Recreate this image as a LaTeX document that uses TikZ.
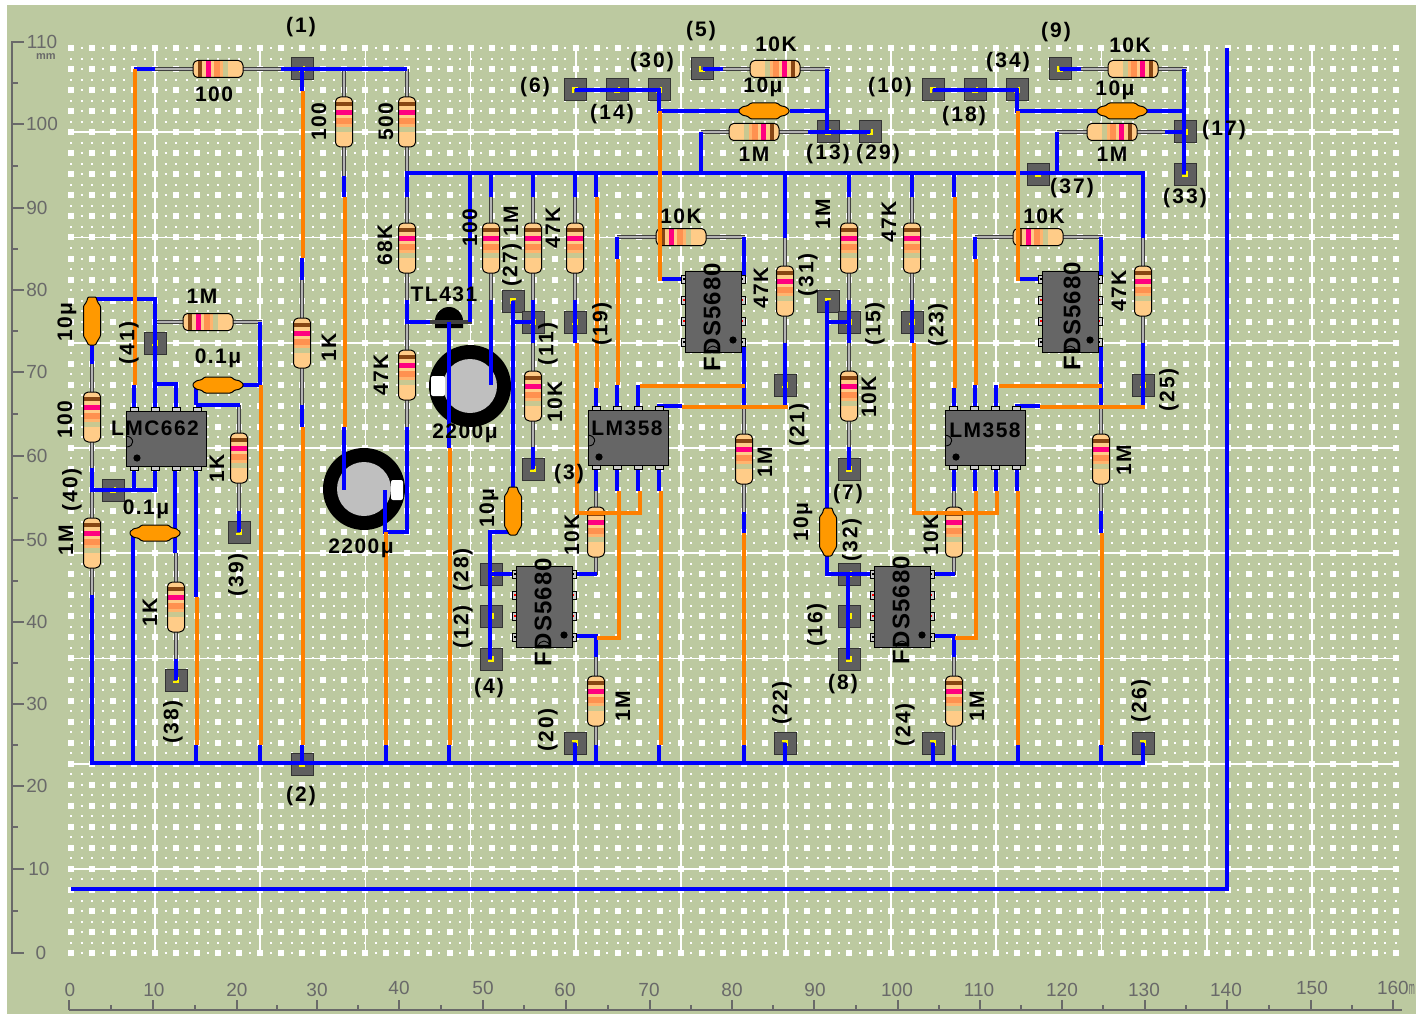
\documentclass[tikz,border=0pt]{standalone}
\usepackage{fontspec}
\setmainfont{Liberation Sans}
\newfontfamily\valf[LetterSpace=7]{Liberation Sans}
\newfontfamily\padf[LetterSpace=10]{Liberation Sans}
\newfontfamily\fdsf[LetterSpace=5]{Liberation Sans}
\definecolor{board}{RGB}{188,201,160}
\definecolor{axisc}{RGB}{105,105,105}
\definecolor{wblue}{RGB}{0,0,255}
\definecolor{worange}{RGB}{255,128,0}
\definecolor{rbody}{RGB}{255,204,136}
\definecolor{rbrown}{RGB}{135,70,20}
\definecolor{rmag}{RGB}{255,0,128}
\definecolor{rora}{RGB}{255,145,80}
\definecolor{rlight}{RGB}{255,180,110}
\definecolor{rsage}{RGB}{200,200,145}
\definecolor{capc}{RGB}{255,153,0}
\definecolor{icc}{RGB}{102,102,102}
\definecolor{padc}{RGB}{95,95,95}
\definecolor{pinc}{RGB}{205,205,205}
\tikzset{
  bw/.style={draw=wblue,line width=3.6pt,line join=miter},
  ow/.style={draw=worange,line width=3.6pt,line join=miter},
  leadO/.style={draw=black!75,line width=4.2pt},
  leadI/.style={draw=black!30,line width=1.6pt},
  vallab/.style={inner sep=0pt,font=\valf\bfseries\fontsize{21}{21}\selectfont,text=black},
  padlab/.style={inner sep=0pt,font=\padf\bfseries\fontsize{21}{21}\selectfont,text=black},
  fdslab/.style={inner sep=0pt,rotate=90,font=\fdsf\bfseries\fontsize{24}{24}\selectfont,text=black},
  axlab/.style={inner sep=0pt,font=\fontsize{19}{19}\selectfont,text=axisc},
  axl/.style={draw=axisc,line width=1.6pt},
  gridl/.style={draw=white,line width=1.8pt},
  ico/.style={fill=icc,draw=black,line width=1pt},
  pino/.style={fill=pinc,draw=black,line width=.8pt},
  capo/.style={fill=capc,draw=black,line width=1pt,rounded corners=1pt},
}
\newcount\labn
\newcommand{\ValH}[3]{\global\advance\labn by1 \node[vallab] (v\the\labn) at (#1,#2) {#3};}
\newcommand{\ValR}[3]{\global\advance\labn by1 \node[vallab,rotate=90] (v\the\labn) at (#1,#2) {#3};}
\newcommand{\PadH}[3]{\global\advance\labn by1 \node[padlab] (p\the\labn) at (#1,#2) {#3};}
\newcommand{\PadR}[3]{\global\advance\labn by1 \node[padlab,rotate=90] (p\the\labn) at (#1,#2) {#3};}
\newcommand{\resbody}{%
  \fill[rbody] (-25,-5)--(-22,-8.5)--(22,-8.5)--(25,-5)--(25,5)--(22,8.5)--(-22,8.5)--(-25,5)--cycle;
  \fill[rbrown] (-20,-8) rectangle (-16,8);
  \fill[rmag] (-12,-8) rectangle (-7,8);
  \fill[rora] (-4,-8) rectangle (2,8);
  \fill[rlight] (2,-8) rectangle (5,8);
  \fill[rsage] (5,-8) rectangle (10,8);
  \draw[black,line width=1pt,rounded corners=1.5pt] (-25,-5)--(-22,-8.5)--(22,-8.5)--(25,-5)--(25,5)--(22,8.5)--(-22,8.5)--(-25,5)--cycle;
}
% cx cy x1 x2 dir
\newcommand{\resH}[5]{%
  \draw[leadO] (#3,#2)--(#4,#2); \draw[leadI] (#3,#2)--(#4,#2);
  \begin{scope}[shift={(#1,#2)},xscale=#5]\resbody\end{scope}}
% cx cy y1 y2 dir
\newcommand{\resV}[5]{%
  \draw[leadO] (#1,#3)--(#1,#4); \draw[leadI] (#1,#3)--(#1,#4);
  \begin{scope}[shift={(#1,#2)},rotate=-90,xscale=#5]\resbody\end{scope}}
\newcommand{\capH}[2]{\draw[capo] (#1-25,#2-1.5)--(#1-21,#2-4.5)--(#1-17,#2-5)--(#1-13,#2-8)--(#1+13,#2-8)--(#1+17,#2-5)--(#1+21,#2-4.5)--(#1+25,#2-1.5)--(#1+25,#2+1.5)--(#1+21,#2+4.5)--(#1+17,#2+5)--(#1+13,#2+8)--(#1-13,#2+8)--(#1-17,#2+5)--(#1-21,#2+4.5)--(#1-25,#2+1.5)--cycle;}
\newcommand{\capV}[2]{\draw[capo] (#1-4,#2-24)--(#1+4,#2-24)--(#1+5.5,#2-19)--(#1+8.5,#2-15)--(#1+8.5,#2+15)--(#1+5.5,#2+20)--(#1+3.5,#2+24)--(#1-3.5,#2+24)--(#1-5.5,#2+20)--(#1-8.5,#2+15)--(#1-8.5,#2-15)--(#1-5.5,#2-19)--cycle;}
% x y sx sy : pad with yellow corner mark
\newcommand{\pad}[4]{%
  \fill[padc] (#1-11,#2-11) rectangle (#1+11,#2+11);
  \draw[black!80,line width=1pt] (#1-11,#2-11) rectangle (#1+11,#2+11);
  \draw[yellow,line width=1.2pt] (#1-3*#3,#2+2*#4)--(#1+2*#3,#2+2*#4)--(#1+2*#3,#2-3*#4);}
% x1 y1 pins at x+8,+29,+50,+71
\newcommand{\ich}[2]{%
  \foreach \d in {8,29,50,71}{
    \draw[pino] (#1+\d-4,#2-4) rectangle (#1+\d+4,#2+1);
    \draw[pino] (#1+\d-4,#2+54) rectangle (#1+\d+4,#2+59);}
  \draw[ico] (#1,#2) rectangle (#1+80,#2+55);
  \fill[black] (#1+11,#2+47) circle[radius=3.6];
  \draw[black,line width=.9pt] (#1,#2+25) .. controls (#1+9,#2+26) and (#1+9,#2+36) .. (#1,#2+36);}
% x1 y1 : vertical FDS body, pins at y+8,+29,+50,+71
\newcommand{\icv}[2]{%
  \foreach \d/\cc in {8/black,29/red,50/red,71/black}{
    \draw[pino] (#1-4,#2+\d-4) rectangle (#1+1,#2+\d+4);
    \draw[pino] (#1+55,#2+\d-4) rectangle (#1+60,#2+\d+4);
    \fill[\cc] (#1-2,#2+\d-.7) rectangle (#1,#2+\d+.7);
    \fill[\cc] (#1+56,#2+\d-.7) rectangle (#1+58,#2+\d+.7);}
  \draw[ico] (#1,#2) rectangle (#1+56,#2+81);
  \fill[black] (#1+48,#2+69) circle[radius=3.6];
  \draw[black,line width=.9pt] (#1+22,#2+81) .. controls (#1+23,#2+73) and (#1+33,#2+73) .. (#1+34,#2+81);}
\newcommand{\elcap}[5]{%
  \fill[black] (#1,#2) circle[radius=41];
  \fill[black!25] (#1,#2) circle[radius=27];
  \fill[white,rounded corners=2pt] (#3,#4) rectangle ++(#5,20);}
\begin{document}
\begin{tikzpicture}[x=1pt,y=-1pt]
\useasboundingbox (0,0) rectangle (1416,1014);
\fill[board] (7,5) rectangle (1416,1014);
% board dots and lines
\foreach \k in {0,...,86}{
  \pgfmathsetmacro{\yy}{48+10.525*\k}
  \draw[white,line width=2pt,dash pattern=on 2pt off 8.515pt] (70,\yy)--(1398,\yy);}
\foreach \k in {4,9,...,39}{
  \pgfmathsetmacro{\yy}{48+21.05*\k}
  \draw[gridl] (71,\yy)--(1397,\yy);}
\foreach \k in {4,9,...,59}{
  \pgfmathsetmacro{\xx}{71+21.03*\k}
  \draw[gridl] (\xx,48)--(\xx,953);}
\foreach \k in {0,...,43}{
  \pgfmathsetmacro{\yy}{48+21.05*\k}
  \draw[white,line width=6pt,dash pattern=on 6pt off 15.03pt] (68,\yy)--(1399,\yy);}
% left axis
\draw[axl] (24,42)--(12,42)--(12,953)--(24,953);
\foreach \v/\yy in {100/124,90/208,80/290,70/372,60/456,50/540,40/622,30/704,20/786,10/869}{
  \draw[axl] (12,\yy)--(24,\yy);}
\foreach \yy in {83,166,249,331,414,498,581,663,745,827,911}{\draw[axl] (12,\yy)--(18,\yy);}
\foreach \v/\yy/\xx in {110/42/42,100/124/42,90/208/37,80/290/37,70/372/37,60/456/37,50/540/37,40/622/37,30/704/37,20/786/37,10/869/39,0/953/41}{
  \node[axlab] (ay\v) at (\xx,\yy) {\v};}
\node[inner sep=0pt,text=axisc,font=\bfseries\fontsize{11}{11}\selectfont] (aymm) at (46,57) {mm};
% bottom axis
\draw[axl] (69,1010)--(1402,1010);
\foreach \xx in {69,153,237,317,399,483,566,650,732,814,898,980,1062,1145,1227,1311,1393}{\draw[axl] (\xx,1000)--(\xx,1010);}
\foreach \xx in {111,195,277,358,441,524,608,691,773,856,939,1021,1103,1186,1269,1352}{\draw[axl] (\xx,1005)--(\xx,1010);}
\foreach \v/\xx/\yy in {0/70/990,10/154/990,20/237/990,30/317/990,40/399/988,50/483/988,60/565/990,70/649/990,80/732/990,90/815/990,100/897/990,110/979/990,120/1062/990,130/1144/990,140/1226/990,150/1312/988}{
  \node[axlab] (ax\v) at (\xx,\yy) {\v};}
\node[axlab,anchor=east] (ax160) at (1415,988) {160\scalebox{0.38}[1]{m}};
% pads
\foreach \x/\y/\sa/\sb in {302/69/1/1,302/764/1/1,533/469/1/1,491/659/1/1,702/69/-1/1,575/90/-1/-1,617/90/1/1,659/90/1/1,828/132/1/1,870/132/1/1,1060/69/-1/1,933/90/-1/-1,975/90/1/1,1017/90/1/1,1185/132/1/1,1185/174/1/1,1038/174/1/1,513/301/-1/-1,533/322/1/1,575/322/1/1,828/301/-1/-1,849/322/1/1,912/322/1/1,785/385/1/1,1143/385/1/1,849/469/1/1,849/574/1/1,849/616/1/1,849/659/1/1,491/574/1/1,491/616/1/1,575/743/1/-1,785/743/1/-1,933/743/1/-1,1143/743/1/-1,176/680/1/1,239/532/1/1,113/490/1/1,155/343/1/1}{\pad{\x}{\y}{\sa}{\sb}}
% electrolytic caps and TL431
\elcap{364}{489}{391}{480}{12}
\elcap{470}{386}{431}{376}{14}
\fill[black] (435,328)--(435,321) arc[start angle=180,end angle=360,radius=14]--(463,328)--cycle;
\draw[leadO] (430,322)--(472,322);
% resistors
\resH{218}{69}{155}{281}{1}
\resH{208}{322}{155}{262}{1}
\resH{775}{69}{723}{830}{-1}
\resH{754}{132}{701}{808}{-1}
\resH{681}{237}{617}{745}{1}
\resH{1133}{69}{1081}{1187}{-1}
\resH{1112}{132}{1057}{1165}{-1}
\resH{1038}{237}{975}{1103}{1}
\resV{344}{122}{69}{176}{1}
\resV{407}{122}{69}{173}{1}
\resV{407}{248}{197}{300}{1}
\resV{407}{375}{322}{427}{1}
\resV{302}{343}{280}{405}{1}
\resV{92}{417}{364}{470}{1}
\resV{92}{543}{490}{595}{1}
\resV{176}{607}{553}{659}{1}
\resV{239}{458}{405}{511}{1}
\resV{491}{248}{197}{300}{1}
\resV{533}{248}{197}{300}{1}
\resV{533}{396}{343}{447}{1}
\resV{575}{248}{197}{300}{1}
\resV{596}{532}{490}{575}{1}
\resV{596}{701}{657}{745}{1}
\resV{744}{459}{406}{512}{1}
\resV{785}{291}{238}{343}{1}
\resV{849}{248}{197}{300}{1}
\resV{849}{396}{343}{447}{1}
\resV{912}{248}{197}{300}{1}
\resV{1101}{459}{406}{511}{1}
\resV{1143}{291}{238}{343}{1}
\resV{954}{532}{490}{575}{1}
\resV{954}{701}{657}{745}{1}
% blue wires
\draw[bw] (134,69)--(155,69);
\draw[bw] (281,69)--(407,69);
\draw[bw] (302,69)--(302,91);
\draw[bw] (344,176)--(344,197);
\draw[bw] (407,197)--(407,173)--(1143,173)--(1143,238);
\draw[bw] (470,173)--(470,322);
\foreach \x in {491,533,575,596,849,912,954}{\draw[bw] (\x,173)--(\x,197);}
\draw[bw] (785,173)--(785,238);
\draw[bw] (701,173)--(701,132);
\draw[bw] (1057,173)--(1057,132);
\draw[bw] (575,90)--(659,90)--(659,111)--(739,111);
\draw[bw] (790,111)--(827,111);
\draw[bw] (827,69)--(827,132);
\draw[bw] (808,132)--(870,132);
\draw[bw] (703,69)--(723,69);
\draw[bw] (933,90)--(1017,90)--(1017,111)--(1097,111);
\draw[bw] (1147,111)--(1184,111);
\draw[bw] (1184,69)--(1184,174);
\draw[bw] (1165,132)--(1185,132);
\draw[bw] (1060,69)--(1081,69);
\draw[bw] (302,258)--(302,280);
\draw[bw] (302,405)--(302,427);
\draw[bw] (344,427)--(344,490);
\draw[bw] (407,300)--(407,322)--(430,322);
\draw[bw] (407,427)--(407,532)--(385,532)--(385,490);
\draw[bw] (449,322)--(449,448);
\draw[bw] (491,300)--(491,385);
\draw[bw] (533,300)--(533,343);
\draw[bw] (575,300)--(575,343);
\draw[bw] (513,301)--(513,487);
\draw[bw] (513,322)--(533,322);
\draw[bw] (533,447)--(533,469);
\draw[bw] (512,532)--(490,532)--(490,659);
\draw[bw] (490,574)--(516,574);
\draw[bw] (575,574)--(597,574);
\draw[bw] (575,636)--(596,636)--(596,657);
\draw[bw] (596,388)--(596,410);
\draw[bw] (617,237)--(617,259);
\draw[bw] (617,385)--(617,410);
\draw[bw] (638,385)--(638,410);
\draw[bw] (682,406)--(659,406)--(659,410);
\draw[bw] (683,279)--(661,279);
\foreach \x in {596,617,638,659}{\draw[bw] (\x,465)--(\x,491);}
\draw[bw] (744,237)--(744,281);
\draw[bw] (744,343)--(744,406);
\draw[bw] (744,512)--(744,533);
\draw[bw] (785,343)--(785,406);
\draw[bw] (849,300)--(849,343);
\draw[bw] (912,300)--(912,343);
\draw[bw] (849,447)--(849,470);
\draw[bw] (827,301)--(827,510);
\draw[bw] (827,322)--(849,322);
\draw[bw] (827,555)--(827,574)--(874,574);
\draw[bw] (848,574)--(848,659);
\draw[bw] (932,574)--(955,574);
\draw[bw] (931,636)--(954,636)--(954,657);
\draw[bw] (954,388)--(954,410);
\draw[bw] (975,237)--(975,259);
\draw[bw] (975,385)--(975,410);
\draw[bw] (996,385)--(996,410);
\draw[bw] (1040,406)--(1017,406)--(1017,410);
\draw[bw] (1040,279)--(1018,279);
\foreach \x in {954,975,996,1017}{\draw[bw] (\x,465)--(\x,491);}
\draw[bw] (1101,237)--(1101,281);
\draw[bw] (1101,343)--(1101,406);
\draw[bw] (1101,511)--(1101,533);
\draw[bw] (1143,343)--(1143,406);
\draw[bw] (92,299)--(155,299)--(155,410);
\draw[bw] (155,384)--(176,384)--(176,410);
\draw[bw] (134,385)--(134,410);
\draw[bw] (196,385)--(196,405);
\draw[bw] (196,405)--(240,405);
\draw[bw] (243,385)--(260,385)--(260,322);
\draw[bw] (92,345)--(92,364);
\draw[bw] (92,468)--(92,490)--(155,490)--(155,465);
\draw[bw] (134,465)--(134,490);
\draw[bw] (175,465)--(175,553);
\draw[bw] (196,465)--(196,597);
\draw[bw] (133,533)--(133,763);
\draw[bw] (176,659)--(176,680);
\draw[bw] (239,511)--(239,532);
\draw[bw] (92,595)--(92,763)--(1143,763)--(1143,743);
\foreach \x in {196,260,302,386,449,596,659,744,954,1018,1101}{\draw[bw] (\x,745)--(\x,763);}
\foreach \x in {575,785,933}{\draw[bw] (\x,743)--(\x,763);}
\draw[bw,line width=4pt] (71,889)--(1227,889)--(1227,48);
% capacitors
\capV{92}{321}
\capV{513}{511}
\capV{828}{532}
\capH{218}{385}
\capH{155}{533}
\capH{764}{111}
\capH{1122}{111}
% ICs
\ich{126}{411}
\ich{588}{410}
\ich{945}{410}
\icv{685}{271}
\icv{1042}{271}
\icv{516}{566}
\icv{874}{566}
% orange wires
\draw[ow] (135,69)--(135,385);
\draw[ow] (303,91)--(303,258);
\draw[ow] (303,427)--(303,745);
\draw[ow] (345,197)--(345,427);
\draw[ow] (261,385)--(261,745);
\draw[ow] (197,597)--(197,745);
\draw[ow] (386,532)--(386,745);
\draw[ow] (450,448)--(450,745);
\draw[ow] (597,197)--(597,388);
\draw[ow] (618,259)--(618,385);
\draw[ow] (660,111)--(660,281);
\draw[ow] (640,386)--(745,386);
\draw[ow] (682,407)--(788,407);
\draw[ow] (577,343)--(577,513)--(640,513)--(640,491);
\draw[ow] (619,491)--(619,638)--(597,638);
\draw[ow] (661,491)--(661,745);
\draw[ow] (744,533)--(744,745);
\draw[ow] (955,197)--(955,388);
\draw[ow] (976,259)--(976,385);
\draw[ow] (1018,111)--(1018,281);
\draw[ow] (999,386)--(1102,386);
\draw[ow] (1040,407)--(1145,407);
\draw[ow] (914,343)--(914,513)--(997,513)--(997,491);
\draw[ow] (976,491)--(976,638)--(955,638);
\draw[ow] (1018,491)--(1018,745);
\draw[ow] (1102,533)--(1102,745);
% value labels
\ValH{214}{94}{100}
\ValR{319}{122}{100}
\ValR{386}{122}{500}
\ValR{385}{245}{68K}
\ValR{381}{375}{47K}
\ValR{329}{347}{1K}
\ValH{202}{296}{1M}
\ValH{218}{358}{0.1μ}
\ValH{146}{509}{0.1μ}
\ValR{67}{322}{10μ}
\ValR{65}{420}{100}
\ValR{66}{540}{1M}
\ValR{150}{612}{1K}
\ValR{217}{468}{1K}
\ValH{361}{548}{2200μ}
\ValH{465}{433}{2200μ}
\ValH{444}{294}{TL431}
\ValR{470}{228}{100}
\ValR{511}{221}{1M}
\ValR{553}{228}{47K}
\ValR{555}{402}{10K}
\ValR{489}{508}{10μ}
\ValR{572}{535}{10K}
\ValR{623}{706}{1M}
\ValH{681}{216}{10K}
\ValR{761}{288}{47K}
\ValR{765}{462}{1M}
\ValH{776}{44}{10K}
\ValH{763}{87}{10μ}
\ValH{754}{154}{1M}
\ValR{823}{214}{1M}
\ValR{889}{222}{47K}
\ValR{869}{397}{10K}
\ValR{803}{522}{10μ}
\ValR{931}{535}{10K}
\ValR{977}{706}{1M}
\ValH{1044}{216}{10K}
\ValR{1119}{291}{47K}
\ValR{1124}{460}{1M}
\ValH{1130}{45}{10K}
\ValH{1115}{90}{10μ}
\ValH{1112}{154}{1M}
\ValH{155}{428}{LMC662}
\ValH{627}{428}{LM358}
\ValH{985}{430}{LM358}
\node[fdslab] (fds1) at (712,317) {FDS5680};
\node[fdslab] (fds2) at (1072,316) {FDS5680};
\node[fdslab] (fds3) at (543,612) {FDS5680};
\node[fdslab] (fds4) at (901,610) {FDS5680};
% pad labels
\PadH{301}{27}{(1)}
\PadH{301}{796}{(2)}
\PadH{569}{474}{(3)}
\PadH{489}{688}{(4)}
\PadH{701}{31}{(5)}
\PadH{535}{87}{(6)}
\PadH{612}{114}{(14)}
\PadH{652}{62}{(30)}
\PadH{828}{154}{(13)}
\PadH{878}{154}{(29)}
\PadH{1056}{32}{(9)}
\PadH{890}{87}{(10)}
\PadH{964}{116}{(18)}
\PadH{1008}{62}{(34)}
\PadH{1224}{130}{(17)}
\PadH{1185}{198}{(33)}
\PadH{1072}{188}{(37)}
\PadH{843}{684}{(8)}
\PadH{848}{494}{(7)}
\PadR{129}{343}{(41)}
\PadR{72}{490}{(40)}
\PadR{238}{575}{(39)}
\PadR{173}{722}{(38)}
\PadR{463}{627}{(12)}
\PadR{463}{570}{(28)}
\PadR{512}{265}{(27)}
\PadR{548}{344}{(11)}
\PadR{602}{324}{(19)}
\PadR{799}{425}{(21)}
\PadR{808}{275}{(31)}
\PadR{875}{324}{(15)}
\PadR{938}{325}{(23)}
\PadR{1169}{390}{(25)}
\PadR{852}{540}{(32)}
\PadR{817}{625}{(16)}
\PadR{905}{725}{(24)}
\PadR{782}{703}{(22)}
\PadR{548}{730}{(20)}
\PadR{1141}{701}{(26)}
\end{tikzpicture}
\end{document}
